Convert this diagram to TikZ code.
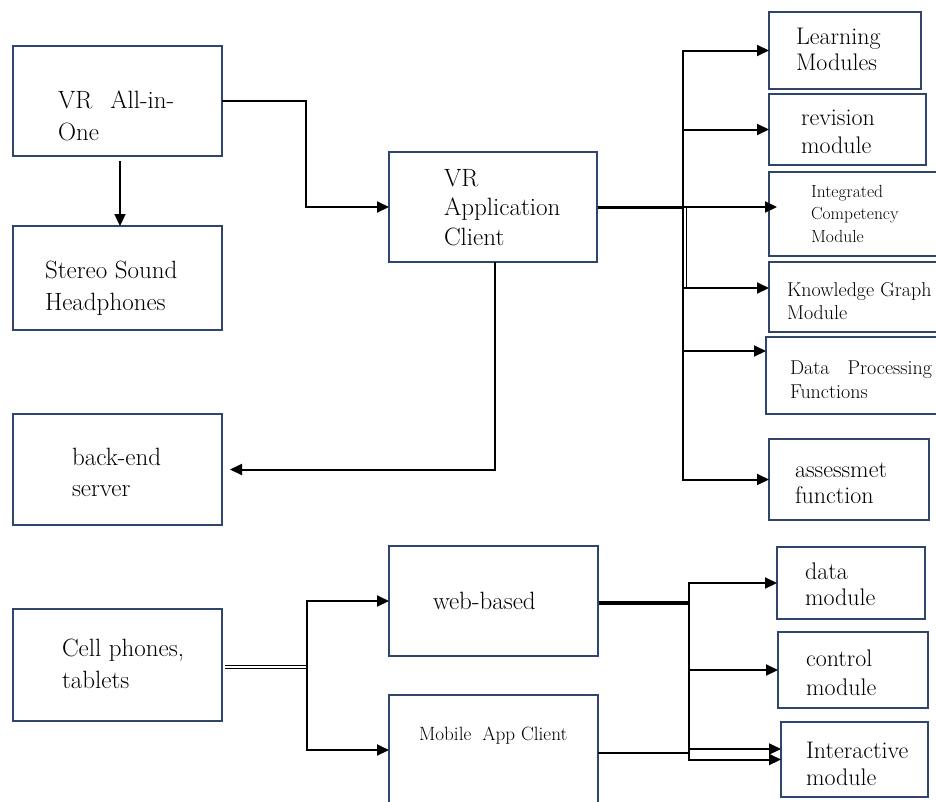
\documentclass[tikz,border=0pt]{standalone}
\usetikzlibrary{arrows.meta,calc}
\definecolor{boxc}{RGB}{47,69,108}
\begin{document}
\begin{tikzpicture}[x=1pt,y=-1pt,
  bx/.style={draw=boxc, line width=1.5pt, inner sep=0pt, outer sep=0pt, rectangle},
  txt/.style={anchor=base west, inner sep=0pt, outer sep=0pt, align=left},
  conn/.style={draw=black, line width=2pt},
  arr/.style={conn, -{Triangle[length=12pt,width=11pt]}},
  big/.style={font=\fontsize{25}{31}\selectfont},
  mid/.style={font=\fontsize{24}{26}\selectfont}]
\useasboundingbox (0,0) rectangle (936,801);
\clip (0,0) rectangle (936,801);
\fill[white] (0,0) rectangle (936,801);

% boxes
\node[bx, minimum width=209pt, minimum height=110pt] (vr) at (117.5,101) {};
\node[bx, minimum width=209pt, minimum height=104pt] (stereo) at (117.5,278) {};
\node[bx, minimum width=209pt, minimum height=111pt] (backend) at (117.5,469.5) {};
\node[bx, minimum width=209pt, minimum height=112pt] (cell) at (117.5,665) {};
\node[bx, minimum width=208pt, minimum height=110pt] (app) at (493,207) {};
\node[bx, minimum width=209pt, minimum height=110pt] (web) at (493.5,601) {};
\node[bx, minimum width=209pt, minimum height=110pt] (mobile) at (493.5,750) {};
\node[bx, minimum width=152pt, minimum height=77pt] (learning) at (845,50.5) {};
\node[bx, minimum width=157pt, minimum height=71pt] (revision) at (847.5,129.5) {};
\node[bx, minimum width=176pt, minimum height=84pt] (integrated) at (857,214) {};
\node[bx, minimum width=176pt, minimum height=70pt] (knowledge) at (857,297) {};
\node[bx, minimum width=179pt, minimum height=77pt] (dataproc) at (855.5,375.5) {};
\node[bx, minimum width=160pt, minimum height=81pt] (assess) at (849,479.5) {};
\node[bx, minimum width=148pt, minimum height=72pt] (datamod) at (851,583) {};
\node[bx, minimum width=150pt, minimum height=76pt] (control) at (853,670) {};
\node[bx, minimum width=147pt, minimum height=75pt] (interactive) at (854.5,759.5) {};

% texts (anchored at the baseline of the last line)
\node[txt, font=\fontsize{25}{32}\selectfont] (t-vr) at (58,140) {VR\hspace{18pt}All-in-\\One};
\node[txt, font=\fontsize{25}{32}\selectfont] (t-stereo) at (45,310) {Stereo Sound\\Headphones};
\node[txt, big] (t-backend) at (72,496) {back-end\\server};
\node[txt, font=\fontsize{25}{32}\selectfont] (t-cell) at (62,688) {Cell phones,\\tablets};
\node[txt, font=\fontsize{25}{29.5}\selectfont] (t-app) at (444,245) {VR\\Application\\Client};
\node[txt, big] (t-web) at (433,609) {web-based};
\node[txt, font=\fontsize{19.2}{21}\selectfont] (t-mobile) at (419,740) {Mobile\hspace{11pt}App Client};
\node[txt, mid] (t-learning) at (796,70) {Learning\\Modules};
\node[txt, font=\fontsize{24}{28}\selectfont] (t-revision) at (801,153) {revision\\module};
\node[txt, font=\fontsize{17.5}{22.5}\selectfont] (t-integrated) at (811,242) {Integrated\\Competency\\Module};
\node[txt, font=\fontsize{20}{23}\selectfont] (t-knowledge) at (787,319) {Knowledge Graph\\Module};
\node[txt, font=\fontsize{20}{24}\selectfont] (t-dataproc) at (790,398) {Data\hspace{18pt}Processing\\Functions};
\node[txt, mid] (t-assess) at (795,503) {assessmet\\function};
\node[txt, mid] (t-datamod) at (805,605) {data\\module};
\node[txt, font=\fontsize{24}{29}\selectfont] (t-control) at (806,695) {control\\module};
\node[txt, font=\fontsize{24}{27}\selectfont] (t-interactive) at (806,785) {Interactive\\module};

% junction coordinates
\coordinate (J1) at (306,0);
\coordinate (T) at (683,0);
\coordinate (J2) at (307,0);
\coordinate (U) at (689,0);

% top-left connectors
\draw[arr] ($(vr.south)+(2.5,5)$) -- ($(stereo.north)+(2.5,0)$);
\draw[arr] (vr.east) -| (J1 |- app.west) -- (app.west);
\draw[arr] ($(app.south)+(2,0)$) |- ($(backend.east)+(8,0)$);

% VR application client to modules
\draw[line width=3pt] ($(app.east)+(1,0)$) -- (T |- app.east);
\draw[arr] (T |- assess.west) |- (learning.west);
\draw[arr] (T |- learning.west) |- (assess.west);
\draw[arr] (T |- revision.west) -- (revision.west);
\draw[arr] (T |- app.east) -- ($(integrated.west |- app.east)+(8,0)$);
\coordinate (kg) at ($(knowledge.west)+(0,-9)$);
\draw[arr] (T |- kg) -- (kg);
\coordinate (dp) at ($(dataproc.west)+(0,-24.5)$);
\draw[arr] (T |- dp) -- (dp);
\draw[line width=1pt] ($(T |- app.east)+(3.5,0)$) -- ($(T |- kg)+(3.5,0)$);

% cell phones to web / mobile
\draw[line width=1pt, double, double distance=1.4pt] ($(cell.east)+(3,2)$) -- ($(J2 |- cell.east)+(0,2)$);
\draw[arr] (J2 |- mobile.west) |- (web.west);
\draw[arr] (J2 |- web.west) |- (mobile.west);

% web / mobile to modules
\draw[line width=4pt] ($(web.east)+(1,2)$) -- ($(U |- web.east)+(1,2)$);
\draw[arr] (U |- interactive.west) |- (datamod.west);
\draw[arr] (U |- datamod.west) |- (interactive.west);
\draw[arr] (U |- control.west) -- (control.west);
\coordinate (ia) at ($(interactive.west)+(0,-10.5)$);
\draw[arr] (U |- ia) -- (ia);
\coordinate (me) at ($(mobile.east)+(0,3)$);
\draw[conn, line width=1.7pt] (me) -- (U |- me);
\end{tikzpicture}
\end{document}
